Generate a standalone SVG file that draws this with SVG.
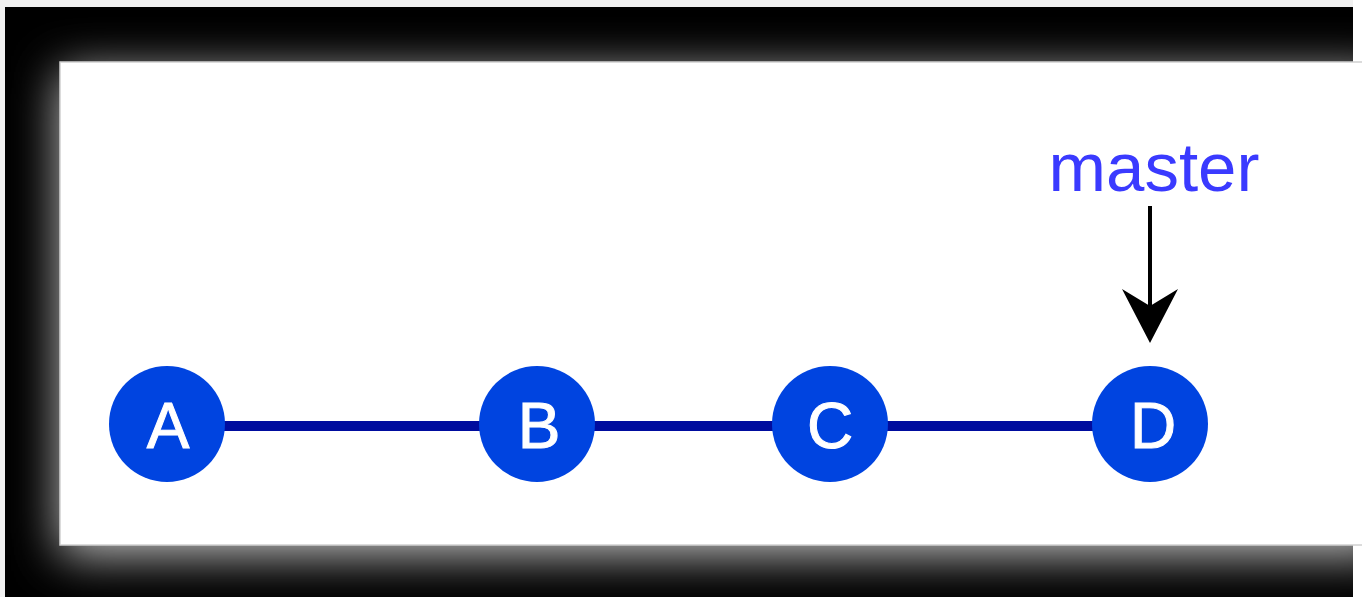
<svg xmlns="http://www.w3.org/2000/svg" width="1362" height="597" viewBox="0 0 1362 597">
  <style>
    .commit { fill: #0044e0; }
    .commit-label { font-family: "Liberation Sans", Arial, sans-serif; font-size: 64px; fill: #ffffff; text-anchor: middle; stroke: #ffffff; stroke-width: 1; }
    .branch-label { font-family: "Liberation Sans", Arial, sans-serif; font-size: 69px; fill: #3a3aff; text-anchor: middle; }
    .edge { stroke: #000c9e; stroke-width: 10; fill: none; }
    .pointer { stroke: #000000; stroke-width: 4; fill: none; }
  </style>
  <defs>
    <filter id="glow" x="-10%" y="-25%" width="120%" height="150%">
      <feGaussianBlur stdDeviation="24"/>
    </filter>
    <clipPath id="frameClip">
      <rect x="5" y="7" width="1348" height="590"/>
    </clipPath>
    <!-- notched arrowhead; reference point sits at the notch -->
    <marker id="arrowHead" viewBox="0 0 54 56" refX="18" refY="28" markerWidth="54" markerHeight="56" markerUnits="userSpaceOnUse" orient="auto">
      <path d="M0,0 L17,28 L0,56 L54,28 Z" fill="#000000"/>
    </marker>
  </defs>

  <!-- page background -->
  <rect x="0" y="0" width="1362" height="597" fill="#ffffff"/>
  <rect x="0" y="0" width="1353" height="7" fill="#f1f1f1"/>
  <rect x="0" y="0" width="5" height="597" fill="#f1f1f1"/>

  <!-- dark frame with soft light halo around the canvas -->
  <g id="frame" clip-path="url(#frameClip)">
    <rect x="5" y="7" width="1348" height="590" fill="#000000"/>
    <rect x="60" y="72" width="1330" height="483" fill="#c4c4c4" filter="url(#glow)"/>
  </g>

  <!-- canvas -->
  <rect id="canvas" x="60" y="62" width="1310" height="483" fill="#ffffff" stroke="#d0d0d0" stroke-width="1.5"/>

  <!-- connectors -->
  <g id="connectors">
    <line class="edge" x1="167" y1="426" x2="537" y2="426"/>
    <line class="edge" x1="537" y1="426" x2="830" y2="426"/>
    <line class="edge" x1="830" y1="426" x2="1150" y2="426"/>
    <line class="pointer" x1="1150" y1="206" x2="1150" y2="307" marker-end="url(#arrowHead)"/>
  </g>

  <!-- commits -->
  <g id="commit-A">
    <circle class="commit" cx="167" cy="424" r="58"/>
    <text class="commit-label" x="168" y="448">A</text>
  </g>
  <g id="commit-B">
    <circle class="commit" cx="537" cy="424" r="58"/>
    <text class="commit-label" x="539" y="448">B</text>
  </g>
  <g id="commit-C">
    <circle class="commit" cx="830" cy="424" r="58"/>
    <text class="commit-label" x="830" y="448">C</text>
  </g>
  <g id="commit-D">
    <circle class="commit" cx="1150" cy="424" r="58"/>
    <text class="commit-label" x="1153" y="448">D</text>
  </g>

  <!-- branch pointer -->
  <g id="branch-master">
    <text class="branch-label" x="1154" y="191">master</text>
  </g>
</svg>
